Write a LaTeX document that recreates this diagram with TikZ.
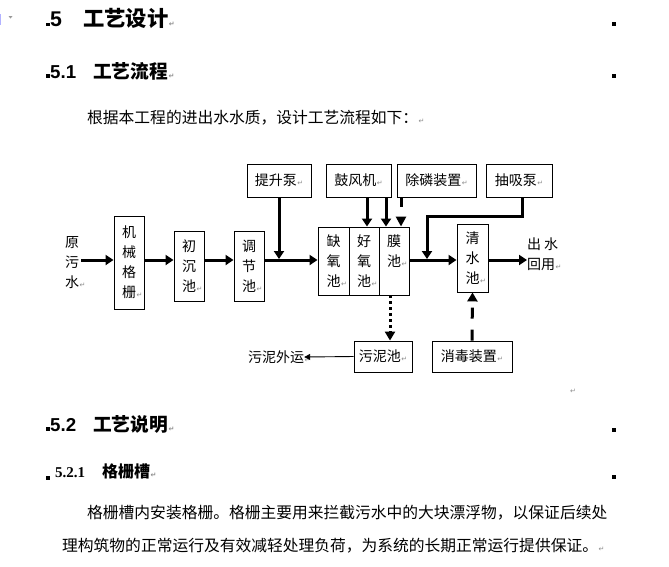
\documentclass[tikz,border=0pt]{standalone}
\usepackage{fontspec}
\setmainfont{Noto Sans CJK SC}
\newfontfamily\djv{DejaVu Sans}
\newfontfamily\arialf{Liberation Sans}
\newfontfamily\timesf{Liberation Serif}
\usetikzlibrary{arrows.meta,calc}
\newcommand\parmark{\rlap{\kern0.5pt\djv\fontsize{7}{7}\selectfont\color{black!45}↵}}
\newcommand\parmarkw{{\kern0.5pt\djv\fontsize{7}{7}\selectfont\color{black!45}↵}}
\begin{document}
\begin{tikzpicture}[x=1pt,y=-1pt,
  box/.style={draw,line width=0.9pt,inner sep=0pt,align=center,font=\fontsize{14}{20}\selectfont},
  lbl/.style={inner sep=0pt,align=center,font=\fontsize{14}{20}\selectfont},
  arr/.style={line width=3pt,-{Triangle[length=8pt,width=10pt]}},
  dotarr/.style={line width=3pt,dash pattern=on 3pt off 3pt,-{Triangle[length=9pt,width=10pt]}},
  dasharr/.style={line width=3pt,dash pattern=on 10pt off 10pt,-{Triangle[length=10pt,width=10pt]}},
  longdash/.style={line width=3pt,dash pattern=on 11pt off 11pt,-{Triangle[length=9pt,width=10pt]}},
  thinarr/.style={line width=0.9pt,-{Triangle[length=6pt,width=6pt]}},
  hA/.style={inner sep=0pt,anchor=base west,font=\bfseries\fontsize{21.3}{21.3}\selectfont},
  hAn/.style={inner sep=0pt,anchor=base west,font=\arialf\bfseries\fontsize{21.3}{21.3}\selectfont},
  hB/.style={inner sep=0pt,anchor=base west,font=\bfseries\fontsize{18.7}{18.7}\selectfont},
  hBn/.style={inner sep=0pt,anchor=base west,font=\arialf\bfseries\fontsize{18.7}{18.7}\selectfont},
  hC/.style={inner sep=0pt,anchor=base west,font=\bfseries\fontsize{16}{16}\selectfont},
  hCn/.style={inner sep=0pt,anchor=base west,font=\timesf\bfseries\fontsize{15}{15}\selectfont},
  body/.style={inner sep=0pt,anchor=base west,font=\fontsize{15.76}{15.76}\selectfont},
  pmark/.style={inner sep=0pt,anchor=base west,font=\djv\fontsize{7}{7}\selectfont,text=black!45}
]
\useasboundingbox[fill=white] (0,0) rectangle (669,566);

% top-left editor marks
\draw[blue!30,line width=1pt] (0.5,14) -- (0.5,25);
\fill[black!40] (8.5,16) -- (12.5,16) -- (10.5,18.5) -- cycle;

% heading squares
\fill (46,22.5) rectangle (49.5,26);
\fill (46,74) rectangle (49.5,77.5);
\fill (46,427) rectangle (49.5,430.5);
\fill (46,476) rectangle (49.5,479.5);
\fill (612,22) rectangle (616,26);
\fill (612,74) rectangle (616,78);
\fill (612,428) rectangle (616,432);
\fill (612,475) rectangle (616,479);

% headings
\node[hAn] (h1n) at (50,26.5) {5};
\node[hA] (h1t) at (83,26.5) {工艺设计\parmark};
\node[hBn] (h2n) at (50,78) {5.1};
\node[hB] (h2t) at (93,78) {工艺流程\parmark};
\node[body] (p0) at (87,123) {根据本工程的进出水水质，设计工艺流程如下：\parmark};
\node[pmark] (em) at (570,393) {↵};
\node[hBn] (h3n) at (50,431) {5.2};
\node[hB] (h3t) at (93,431) {工艺说明\parmark};
\node[hCn] (h4n) at (55,477) {5.2.1};
\node[hC] (h4t) at (102,477) {格栅槽\parmark};
\node[body] (p1) at (87,518.5) {格栅槽内安装格栅。格栅主要用来拦截污水中的大块漂浮物，以保证后续处};
\node[body] (p2) at (62,551.5) {理构筑物的正常运行及有效减轻处理负荷，为系统的长期正常运行提供保证。\parmark};

% diagram
\coordinate (m) at (0,260);
\node[lbl] (yw) at (72,263) {原\\污\\水\parmark};
\node[box,minimum width=30pt,minimum height=93pt] (jx) at (129,262.5) {机\\械\\格\\栅\parmark};
\node[box,minimum width=30pt,minimum height=70pt] (cc) at (189,266) {初\\沉\\池\parmark};
\node[box,minimum width=30pt,minimum height=70pt] (tj) at (249,266) {调\\节\\池\parmark};
\node[box,minimum width=64pt,minimum height=33pt] (tsb) at (279,180.5) {提升泵\parmarkw};
\node[box,minimum width=65pt,minimum height=33pt] (gfj) at (358.5,180.5) {鼓风机\parmarkw};
\node[box,minimum width=79pt,minimum height=33pt] (clz) at (436.5,180.5) {除磷装置\parmarkw};
\node[box,minimum width=66pt,minimum height=33pt] (cxb) at (519,180.5) {抽吸泵\parmarkw};
\node[box,minimum width=31pt,minimum height=68pt] (qy) at (333.5,261) {缺\\氧\\池\parmark};
\node[box,minimum width=30pt,minimum height=68pt] (hy) at (364,261) {好\\氧\\池\parmark};
\node[box,minimum width=30pt,minimum height=68pt] (mc) at (394,261) {膜\\池\parmark\\~};
\node[box,minimum width=31pt,minimum height=68pt] (qs) at (472.5,258) {清\\水\\池\parmark};
\node[lbl,align=left,anchor=west] (cs) at (527,254) {出\hspace{3pt}水\\回用\parmark};
\node[box,minimum width=58pt,minimum height=31pt] (wnc) at (383,356.5) {污泥池\parmarkw};
\node[box,minimum width=80pt,minimum height=31pt] (xd) at (472,356.5) {消毒装置\parmarkw};
\node[lbl] (wy) at (276,357) {污泥外运\parmark};
\coordinate (k2) at (427,216);
\coordinate (j2) at (427,259);
\coordinate (a1) at ($(hy.north)+(3,0)$);
\coordinate (a2) at ($(mc.north)+(-8,0)$);
\coordinate (a3) at ($(mc.north)+(7,0)$);
\coordinate (a4) at ($(cxb.south)+(3,0)$);
\coordinate (a5) at ($(mc.south)+(-4,0)$);
\coordinate (t1) at ($(tsb.south |- m)+(0,-1)$);

\draw[arr,shorten <=2pt] (yw.east |- m) -- (jx.west |- m);
\draw[arr] (jx.east |- m) -- (cc.west |- m);
\draw[arr] (cc.east |- m) -- (tj.west |- m);
\draw[arr] (tj.east |- m) -- (qy.west |- m);
\draw[arr] (tsb.south) -- (t1);
\draw[arr] (a1 |- gfj.south) -- (a1);
\draw[arr] (a2 |- gfj.south) -- (a2);
\draw[dasharr] (a3 |- clz.south) -- (a3);
\draw[arr] (a4) |- (k2) -- (j2);
\draw[arr] (mc.east |- m) -- (qs.west |- m);
\draw[arr] (qs.east |- m) -- (cs.west |- m);
\draw[dotarr] (a5) -- (a5 |- wnc.north);
\draw[longdash] (xd.north) -- (qs.south);
\draw[thinarr] (wnc.west) -- (wy.east);
\end{tikzpicture}
\end{document}
